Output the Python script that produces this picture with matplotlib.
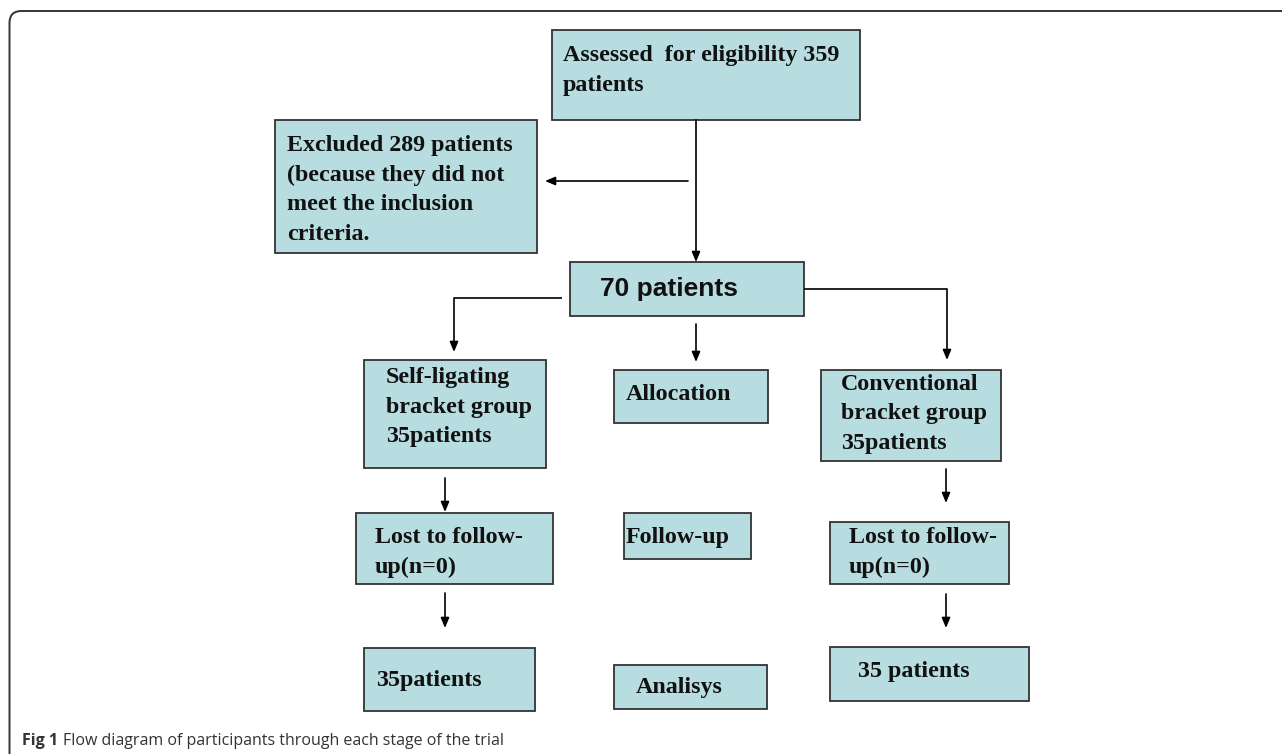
import matplotlib.pyplot as plt
from matplotlib.patches import FancyBboxPatch, Rectangle

# box texts (one list of lines per box)
box_lines = [
    ["Assessed  for eligibility 359", "patients"],
    ["Excluded 289 patients", "(because they did not", "meet the inclusion", "criteria."],
    ["70 patients"],
    ["Self-ligating", "bracket group", "35patients"],
    ["Allocation"],
    ["Conventional", "bracket group", "35patients"],
    ["Lost to follow-", "up(n=0)"],
    ["Follow-up"],
    ["Lost to follow-", "up(n=0)"],
    ["35patients"],
    ["Analisys"],
    ["35 patients"],
]
caption_bold = "Fig 1"
caption_text = "Flow diagram of participants through each stage of the trial"

# layout in pixels of the 1282x754 canvas: (left, top, right, bottom)
box_edges = [
    (552, 30, 860, 120),
    (275, 120, 537, 253),
    (570, 262, 804, 316),
    (364, 360, 546, 468),
    (614, 370, 768, 423),
    (821, 370, 1001, 461),
    (356, 513, 553, 584),
    (624, 513, 751, 559),
    (830, 522, 1009, 584),
    (364, 648, 535, 711),
    (614, 665, 767, 709),
    (830, 647, 1029, 701),
]
# left x and first baseline of each box text
text_anchor = [(563, 61), (287, 151), (600, 296), (386, 383), (626, 400),
               (841, 390), (375, 543), (626, 543), (849, 543), (376, 686),
               (636, 693), (858, 677)]
line_step = 29.5

arrow_paths = [
    [(696, 120), (696, 262)],
    [(688, 181), (545, 181)],
    [(562, 298), (454, 298), (454, 352)],
    [(696, 324), (696, 362)],
    [(804, 289), (947, 289), (947, 360)],
    [(445, 478), (445, 512)],
    [(445, 593), (445, 628)],
    [(946, 469), (946, 503)],
    [(946, 594), (946, 628)],
]

fill = "#b8dde1"
edge = "#333333"

fig = plt.figure(figsize=(12.82, 7.54), dpi=100)
ax = fig.add_axes([0, 0, 1, 1])
ax.set_xlim(0, 1282)
ax.set_ylim(754, 0)
ax.axis("off")

# outer frame, rounded top-left corner, open at right and bottom
frame = FancyBboxPatch((9.5, 11), 1400, 900,
                       boxstyle="round,pad=0,rounding_size=12",
                       fc="none", ec=edge, lw=1.4)
ax.add_patch(frame)

for i, (l, t, r, b) in enumerate(box_edges):
    ax.add_patch(Rectangle((l, t), r - l, b - t, fc=fill, ec=edge, lw=1.3))
    x0, y0 = text_anchor[i]
    for k, line in enumerate(box_lines[i]):
        if i == 2:
            ax.text(x0, y0, line, family="Liberation Sans", weight="bold",
                    fontsize=19, va="baseline", ha="left", color="#111111")
        else:
            ax.text(x0, y0 + k * line_step, line, family="Liberation Serif",
                    weight="bold", fontsize=17.3, va="baseline", ha="left",
                    color="#111111")

for path in arrow_paths:
    xs = [p[0] for p in path]
    ys = [p[1] for p in path]
    ax.plot(xs[:-1], ys[:-1], color="black", lw=1.2, solid_capstyle="butt")
    ax.annotate("", xy=path[-1], xytext=path[-2],
                arrowprops=dict(arrowstyle="-|>,head_length=0.6,head_width=0.25",
                                mutation_scale=10, color="black", lw=1.2,
                                shrinkA=0, shrinkB=0))

ax.text(22, 745, caption_bold, family="Open Sans", weight="bold",
        fontsize=11.5, va="baseline", color="#333333")
ax.text(63, 745, caption_text, family="Open Sans", fontsize=11.5,
        va="baseline", color="#333333")

fig.savefig("out.png", dpi=100)
